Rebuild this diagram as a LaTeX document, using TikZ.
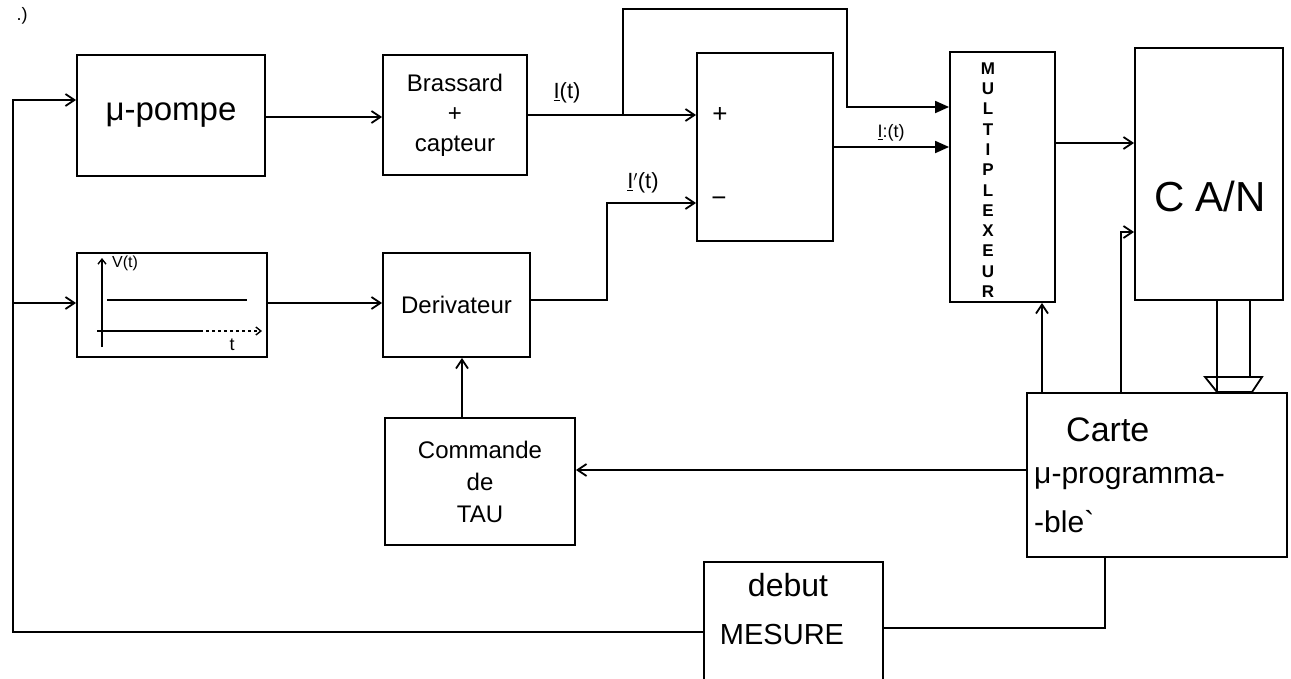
\documentclass[tikz,border=0pt]{standalone}
\usepackage{fontspec}
\setmainfont{Liberation Sans}
\usetikzlibrary{arrows.meta}
\begin{document}
\begin{tikzpicture}[x=1pt,y=-1pt, line width=1.8pt,
  blk/.style={draw, rectangle, inner sep=0pt},
  fs/.style={font=\fontsize{#1}{\the\numexpr#1*5/4\relax}\selectfont},
  arr/.style={-{Straight Barb[length=9pt,width=12pt]}},
  farr/.style={-{Triangle[length=14pt,width=12pt]}}]
\useasboundingbox (0,0) rectangle (1291,678);

% blocks
\node[blk, minimum width=188pt, minimum height=121pt, fs=33] (pompe) at (171,115.5) {μ-pompe};
\node[blk, minimum width=144pt, minimum height=120pt, fs=24, align=center] (brass) at (455,115) {Brassard\\[0pt]+\\[0pt]capteur};
\node[blk, minimum width=190pt, minimum height=104pt] (vt) at (172,305) {};
\node[blk, minimum width=147pt, minimum height=104pt, fs=24] (deriv) at (456.5,305) {Derivateur};
\node[blk, minimum width=190pt, minimum height=127pt, fs=24, align=center] (cmd) at (480,481.5) {Commande\\[2pt]de\\[2pt]TAU};
\node[blk, minimum width=136pt, minimum height=188pt] (sub) at (765,147) {};
\node[blk, minimum width=105pt, minimum height=250pt] (mux) at (1002.5,177) {};
\node[blk, minimum width=148pt, minimum height=252pt] (can) at (1209,174) {};
\node[blk, minimum width=260pt, minimum height=164pt] (carte) at (1157,475) {};
\node[minimum width=177pt, minimum height=115pt, inner sep=0pt] (debut) at (793.5,620.5) {};

% texts inside blocks
\node[fs=42] (cantxt) at (1210,196) {C A/N};
\node[font=\fontsize{17}{20.3}\selectfont\bfseries, align=center, inner sep=0pt] (muxtxt) at (988,180) {M\\U\\L\\T\\I\\P\\L\\E\\X\\E\\U\\R};
\node[fs=34, anchor=west] (cartetxt) at (1062,430) {Carte};
\node[fs=30, anchor=west] (prog) at (1030,479) {μ-programma-};
\node[fs=30, anchor=west] (ble) at (1030,522) {-ble\textasciigrave};
\node[fs=32] (debtxt) at (788,585) {debut};
\node[fs=29] (mestxt) at (782,635) {MESURE};
\node[fs=26] (plus) at (720,115) {+};
\node[fs=26] (minus) at (719,202) {−};

% open box "debut MESURE"
\draw (debut.south west) -- (debut.north west) -- (debut.north east) -- (debut.south east);

% V(t) graph
\coordinate (ax0) at (102,347);
\coordinate (axy) at (102,258);
\coordinate (axx) at (262,331);
\draw[line width=1.4pt, -{Straight Barb[length=5pt,width=8pt]}] (ax0) -- (axy);
\draw[line width=1.4pt] (97,331) -- (200,331);
\draw[line width=1.4pt, dashed, -{Straight Barb[length=5pt,width=8pt]}] (200,331) -- (axx);
\draw[line width=1.4pt] (107,300) -- (247,300);
\node[fs=16, anchor=west] (vlab) at (108,263) {V(t)};
\node[fs=18] (tlab) at (232,345) {t};

% signal labels
\node[fs=22] (ilab) at (567,93) {\underline{I}(t)};
\node[fs=22] (iplab) at (643,183) {\underline{I}$'$(t)};
\node[fs=18] (iilab) at (891,133) {\underline{I}:(t)};
\node[fs=18] (mark) at (22,16) {.)};

% coordinates for connector corners
\coordinate (L1) at (13,632);
\coordinate (L2) at (13,100);
\coordinate (L3) at (13,303);
\coordinate (B1) at (623,115);
\coordinate (B2) at (623,9);
\coordinate (B3) at (847,9);
\coordinate (B4) at (847,107);
\coordinate (D1) at (607,300);
\coordinate (D2) at (607,203);
\coordinate (C1) at (1121,232);
\coordinate (R1) at (1105,628);

% connectors
\draw[arr] (debut.west |- L1) -- (L1) -- (L2) -- (pompe.west |- L2);
\draw[arr] (L3) -- (vt.west |- L3);
\draw[arr] (pompe.east |- 0,117) -- (brass.west |- 0,117);
\draw[arr] (brass.east |- B1) -- (sub.west |- B1);
\draw[farr] (B1) -- (B2) -- (B3) -- (B4) -- (mux.west |- B4);
\draw[farr] (sub.east |- 0,147) -- (mux.west |- 0,147);
\draw[arr] (vt.east |- 0,303) -- (deriv.west |- 0,303);
\draw[arr] (deriv.east |- D1) -- (D1) -- (D2) -- (sub.west |- D2);
\draw[arr] (mux.east |- 0,143) -- (can.west |- 0,143);
\draw[arr] (carte.north -| C1) -- (C1) -- (can.west |- C1);
\draw[arr] (carte.north -| 1042,0) -- (mux.south -| 1042,0);
\draw[arr] (carte.west |- 0,470) -- (cmd.east |- 0,470);
\draw[arr] (cmd.north -| 462,0) -- (deriv.south -| 462,0);
\draw (carte.south -| R1) -- (R1) -- (debut.east |- R1);

% bus CA/N -> carte
\draw (can.south -| 1217,0) -- (1217,392);
\draw (can.south -| 1250,0) -- (1250,377);
\draw (1205,377) -- (1262,377) -- (1252,392) -- (1217,392) -- cycle;
\end{tikzpicture}
\end{document}
